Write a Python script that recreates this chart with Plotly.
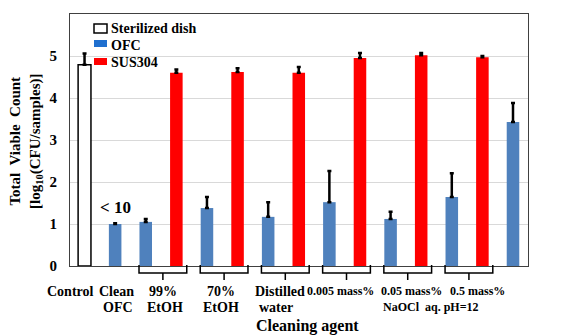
import plotly.graph_objects as go

# ---------------- data ----------------
control_name = "Sterilized dish"
control_vals = [4.79]
control_err = [0.27]

ofc_name = "OFC"
ofc_vals = [1.00, 1.05, 1.38, 1.17, 1.52, 1.12, 1.64, 3.43]
ofc_err = [0.02, 0.07, 0.26, 0.35, 0.74, 0.17, 0.57, 0.45]

sus_name = "SUS304"
sus_vals = [4.60, 4.62, 4.60, 4.95, 5.02, 4.97]
sus_err = [0.08, 0.09, 0.14, 0.12, 0.05, 0.03]

# slot order along the x axis
slots = ["Control", "Clean OFC",
         "99% EtOH OFC", "99% EtOH SUS", "70% EtOH OFC", "70% EtOH SUS",
         "Water OFC", "Water SUS", "0.005 OFC", "0.005 SUS",
         "0.05 OFC", "0.05 SUS", "0.5 OFC", "0.5 SUS", "As contaminated"]
control_slots = ["Control"]
ofc_slots = ["Clean OFC", "99% EtOH OFC", "70% EtOH OFC", "Water OFC",
             "0.005 OFC", "0.05 OFC", "0.5 OFC", "As contaminated"]
sus_slots = ["99% EtOH SUS", "70% EtOH SUS", "Water SUS", "0.005 SUS",
             "0.05 SUS", "0.5 SUS"]
bracket_pairs = [("99% EtOH OFC", "99% EtOH SUS"), ("70% EtOH OFC", "70% EtOH SUS"),
                 ("Water OFC", "Water SUS"), ("0.005 OFC", "0.005 SUS"),
                 ("0.05 OFC", "0.05 SUS"), ("0.5 OFC", "0.5 SUS")]

# category label lines (text, slot position, line number, font size)
label_lines = [
    ("Control", -0.47, 1, 14), ("Clean", 1.03, 1, 14), ("OFC", 1.08, 2, 14),
    ("99%", 2.57, 1, 14), ("EtOH", 2.63, 2, 14),
    ("70%", 4.46, 1, 14), ("EtOH", 4.46, 2, 14),
    ("Distilled", 6.39, 1, 14), ("water", 6.26, 2, 14),
    ("0.005 mass%", 8.35, 1, 12), ("0.05 mass%", 10.67, 1, 12),
    ("0.5 mass%", 12.83, 1, 12), ("NaOCl  aq. pH=12", 11.33, 2, 12),
    ("as", 14.53, 1, 11), ("contaminated", 14.63, 2, 11),
]
x_title = "Cleaning agent"
y_title = "Total  Viable  Count<br>[log<sub>10</sub>(CFU/samples)]"
note_text = "< 10"

pos = {s: i for i, s in enumerate(slots)}
FONT = "Times New Roman, Liberation Serif, DejaVu Serif, serif"
BLUE = "#4f81bd"
RED = "#ff0000"

# plot-area geometry (page pixels); the page body adds an 8px offset
PL, PR, PT, PB = 70, 528, 14, 266
PW, PH = PR - PL, PB - PT
def px(x):
    return (x - PL) / PW
def py(y):
    return (PB - y) / PH

fig = go.Figure()
err_style = dict(type="data", symmetric=False, color="black", thickness=2.5, width=2)

fig.add_trace(go.Bar(
    name=control_name, x=[pos[s] for s in control_slots], y=control_vals,
    width=0.42, marker=dict(color="white", line=dict(color="black", width=1.5)),
    error_y=dict(array=control_err, arrayminus=[0] * len(control_err), **err_style)))
fig.add_trace(go.Bar(
    name=ofc_name, x=[pos[s] for s in ofc_slots], y=ofc_vals,
    width=0.41, marker=dict(color=BLUE, line=dict(width=0)),
    error_y=dict(array=ofc_err, arrayminus=[0] * len(ofc_err), **err_style)))
fig.add_trace(go.Bar(
    name=sus_name, x=[pos[s] for s in sus_slots], y=sus_vals,
    width=0.41, marker=dict(color=RED, line=dict(width=0)),
    error_y=dict(array=sus_err, arrayminus=[0] * len(sus_err), **err_style)))

# manual legend (swatch + label)
legend_items = [
    (control_name, "white", "black", 24, 33, 28),
    (ofc_name, "#1f6fcf", None, 40, 47, 45),
    (sus_name, RED, None, 58, 65, 63),
]
for name, fill, edge, y0, y1, yt in legend_items:
    fig.add_shape(type="rect", xref="paper", yref="paper",
                  x0=px(94), x1=px(107), y0=py(y1), y1=py(y0),
                  fillcolor=fill,
                  line=dict(color=edge if edge else fill, width=1.5 if edge else 0))
    fig.add_annotation(text=name, x=px(109), y=py(yt), xref="paper", yref="paper",
                       showarrow=False, xanchor="left", yanchor="middle",
                       font=dict(family=FONT, size=14, color="black", weight="bold"))

# brackets under the grouped pairs
y_top, y_mid, y_bot = py(265), py(273), py(280)
for a, b in bracket_pairs:
    x0 = pos[a] - 0.22
    x1 = pos[b] + 0.34
    xc = (x0 + x1) / 2
    fig.add_shape(type="path", xref="x", yref="paper",
                  path=f"M{x0},{y_top} L{x0},{y_mid} L{x1},{y_mid} L{x1},{y_top} "
                       f"M{xc},{y_mid} L{xc},{y_bot}",
                  line=dict(color="black", width=1.5))

line_y = {1: py(291), 2: py(307)}
for text, xv, ln, fs in label_lines:
    fig.add_annotation(text=text, x=xv, y=line_y[ln], xref="x", yref="paper",
                       showarrow=False, xanchor="center", yanchor="middle",
                       font=dict(family=FONT, size=fs, color="black", weight="bold"))

fig.add_annotation(text=x_title, x=px(307), y=py(326),
                   xref="paper", yref="paper", showarrow=False,
                   xanchor="center", yanchor="middle",
                   font=dict(family=FONT, size=16, color="black", weight="bold"))
fig.add_annotation(text=y_title, x=px(26), y=py(141), xref="paper", yref="paper",
                   textangle=-90, showarrow=False, xanchor="center", yanchor="middle",
                   font=dict(family=FONT, size=15, color="black", weight="bold"))
fig.add_annotation(text=note_text, x=pos["Clean OFC"], y=1.4, xref="x", yref="y",
                   showarrow=False, xanchor="center", yanchor="middle",
                   font=dict(family=FONT, size=17, color="black", weight="bold"))

OFF = 8  # page body margin
fig.update_layout(
    width=570 - OFF, height=335 - OFF,
    margin=dict(l=PL - OFF, r=570 - PR, t=PT - OFF, b=335 - PB),
    paper_bgcolor="white", plot_bgcolor="white",
    barmode="overlay",
    showlegend=False,
    font=dict(family=FONT, color="black"),
    xaxis=dict(range=[-0.475, 14.49], showticklabels=False, showgrid=False,
               zeroline=False, showline=True, linecolor="#404040", linewidth=1,
               mirror=True, ticks=""),
    yaxis=dict(range=[0, 6], dtick=1, showgrid=True, gridcolor="#d9d9d9", gridwidth=1,
               zeroline=False, showline=True, linecolor="#404040", linewidth=1,
               mirror=True, ticks="", ticklabelstandoff=9,
               tickfont=dict(family=FONT, size=15, color="black", weight="bold")),
)

fig.write_html("out.html")
